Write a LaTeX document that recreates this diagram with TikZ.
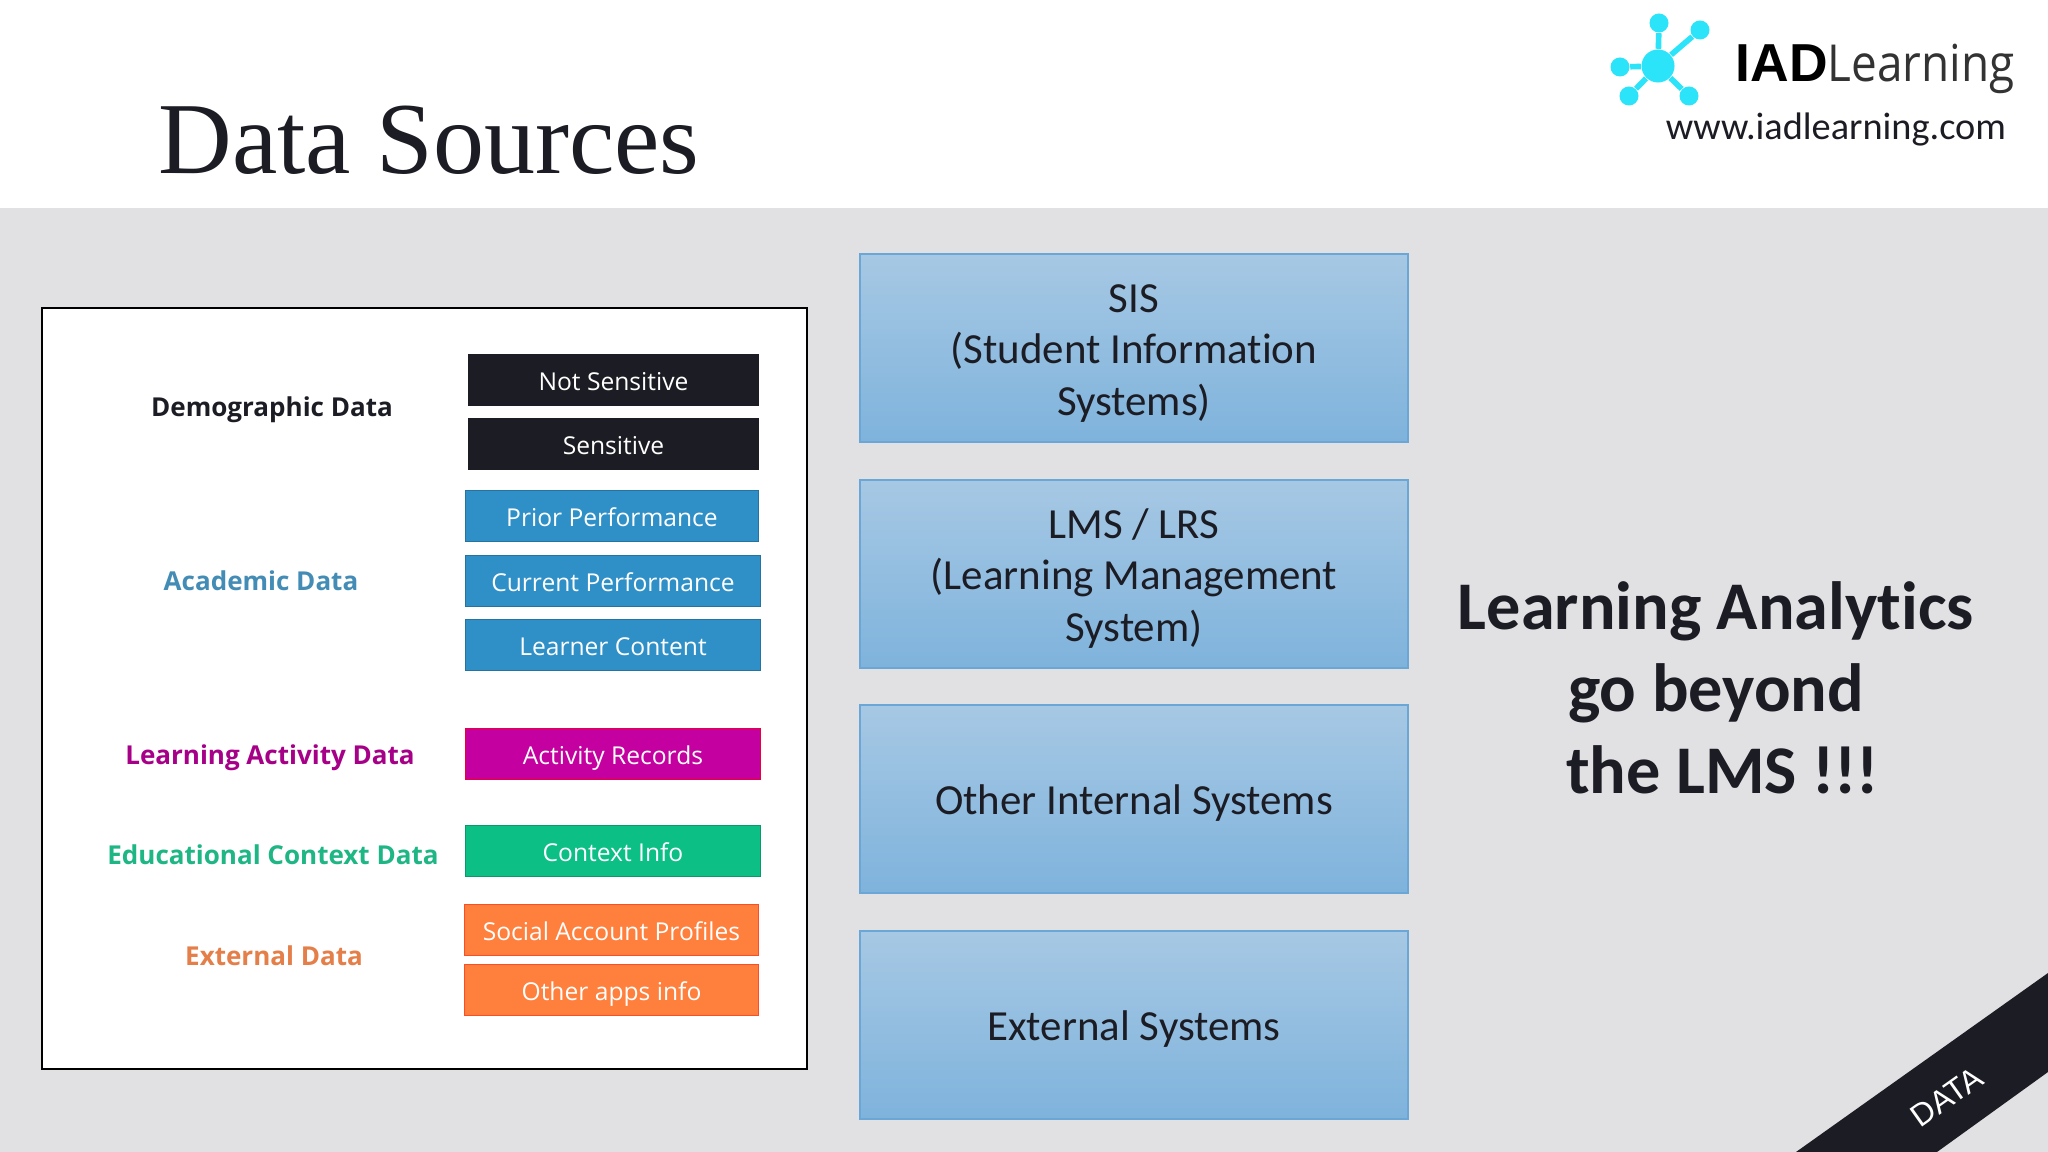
\documentclass[tikz,border=0pt]{standalone}
\usepackage{fontspec}
\setmainfont{Open Sans}
\newfontfamily\carlito[Ligatures=NoCommon]{Carlito}
\newfontfamily\titlefont{Liberation Serif}
\newfontfamily\heavyfont{Liberation Sans}
\newfontfamily\lightfont[FakeStretch=0.9]{Open Sans}
\definecolor{slide}{HTML}{E1E1E3}
\definecolor{ink}{HTML}{1C1C24}
\definecolor{cyanlogo}{HTML}{2BE4FA}
\definecolor{acad}{HTML}{2F90C8}
\definecolor{activ}{HTML}{C400A0}
\definecolor{context}{HTML}{0CBF85}
\definecolor{extern}{HTML}{FF7F3C}
\definecolor{systop}{HTML}{A6C8E4}
\definecolor{sysbot}{HTML}{7FB3DC}
\definecolor{sysline}{HTML}{6AA6D6}
\begin{document}
\begin{tikzpicture}[x=0.01cm,y=-0.01cm]

\tikzset{srcbox/.style = {draw,inner sep=0,minimum height=0.51cm,text height=6.8pt,text depth=1pt,text=white,font=\fontsize{7}{9}\selectfont}}
\tikzset{srclabel/.style = {inner sep=0,text height=6.8pt,text depth=1.3pt,font=\bfseries\fontsize{7.4}{9}\selectfont}}
\tikzset{sysbox/.style = {draw=sysline,line width=0.6pt,top color=systop,bottom color=sysbot,minimum width=5.48cm,minimum height=1.88cm,inner sep=0}}
\tikzset{systext/.style = {inner sep=0,align=center,text=ink,font=\carlito\fontsize{12.2}{14.6}\selectfont}}
\tikzset{dot/.style = {shape=circle,fill=cyanlogo,inner sep=0,minimum size=0.19cm}}
\tikzset{spoke/.style = {draw=cyanlogo,line width=1.6pt}}
\useasboundingbox (0,0) rectangle (2048,1152);
%background
\fill[white] (0,0) rectangle (2048,1152);
\fill[slide] (0,208) rectangle (2048,1152);
\node[inner sep=0,anchor=base west,text=ink,font=\titlefont\fontsize{29}{32}\selectfont] (title) at (158,174) {Data Sources};
%logo
\node[dot,minimum size=0.33cm] (hub) at (1658,66) {};
\node[dot] (s1) at (1659,23) {};
\node[dot] (s2) at (1700,30) {};
\node[dot] (s3) at (1620,67) {};
\node[dot] (s4) at (1629,96) {};
\node[dot] (s5) at (1689,96) {};
\draw[spoke] (hub) -- (s1);
\draw[spoke] (hub) -- (s2);
\draw[spoke] (hub) -- (s3);
\draw[spoke] (hub) -- (s4);
\draw[spoke] (hub) -- (s5);
\node[inner sep=0,anchor=base west,font=\fontsize{14.5}{16}\selectfont] (brand) at (1735,82) {{\heavyfont\bfseries\fontsize{15.2}{16}\selectfont IAD}{\lightfont\color{black!80} Learning}};
\node[inner sep=0,anchor=base,text=ink,font=\carlito\fontsize{10.9}{13}\selectfont] (site) at (1836,140) {www.iadlearning.com};
%source panel
\node[draw,line width=0.6pt,fill=white,inner sep=0,minimum width=7.65cm,minimum height=7.61cm] (panel) at (424.5,688.5) {};
\node[srclabel,text=ink] (demo) at (272,407) {Demographic Data};
\node[srclabel,text=acad!75!gray] (acadl) at (261,581) {Academic Data};
\node[srclabel,text=activ!85!black] (actl) at (270,755) {Learning Activity Data};
\node[srclabel,text=context!85!gray] (ctxl) at (273,855) {Educational Context Data};
\node[srclabel,text=extern!80!gray] (extl) at (274,956) {External Data};
%source boxes
\node[srcbox,fill=ink,draw=ink,minimum width=2.9cm] (b1) at (613.5,380) {Not Sensitive};
\node[srcbox,fill=ink,draw=ink,minimum width=2.9cm] (b2) at (613.5,444) {Sensitive};
\node[srcbox,fill=acad,draw=acad!80!black,minimum width=2.93cm] (b3) at (612,516) {Prior Performance};
\node[srcbox,fill=acad,draw=acad!80!black,minimum width=2.95cm] (b4) at (613,581) {Current Performance};
\node[srcbox,fill=acad,draw=acad!80!black,minimum width=2.95cm] (b5) at (613,645) {Learner Content};
\node[srcbox,fill=activ,draw=red!70!activ,minimum width=2.95cm] (b6) at (613,754) {Activity Records};
\node[srcbox,fill=context,draw=context!80!black,minimum width=2.95cm] (b7) at (613,851) {Context Info};
\node[srcbox,fill=extern,draw=red!40!extern,minimum width=2.94cm] (b8) at (611.5,930) {Social Account Profiles};
\node[srcbox,fill=extern,draw=red!40!extern,minimum width=2.94cm] (b9) at (611.5,990) {Other apps info};
%systems
\node[sysbox] (sis) at (1134,348) {};
\node[sysbox] (lms) at (1134,574) {};
\node[sysbox] (other) at (1134,799) {};
\node[sysbox] (ext) at (1134,1025) {};
\node[systext] (sist) at ([yshift=-0.055cm]sis.center) {SIS\\(Student Information\\Systems)};
\node[systext] (lmst) at ([yshift=-0.045cm]lms.center) {LMS / LRS\\(Learning Management\\System)};
\node[systext] (othert) at ([yshift=-0.04cm]other.center) {Other Internal Systems};
\node[systext] (extt) at ([yshift=-0.04cm]ext.center) {External Systems};
%message
\node[inner sep=0,align=center,text=ink,font=\carlito\bfseries\fontsize{19.4}{23.4}\selectfont] (msg) at (1716,688) {Learning Analytics\\go beyond\\\hspace*{0.13cm}the LMS !!!};
%ribbon
\fill[ink] (1796,1152) -- (2048,973) -- (2048,1072) -- (1937,1152) -- cycle;
\node[inner sep=0,rotate=35.4,text=white,font=\heavyfont\fontsize{9}{11}\selectfont] (ribbon) at (1947,1097) {DATA};

\end{tikzpicture}
\end{document}
